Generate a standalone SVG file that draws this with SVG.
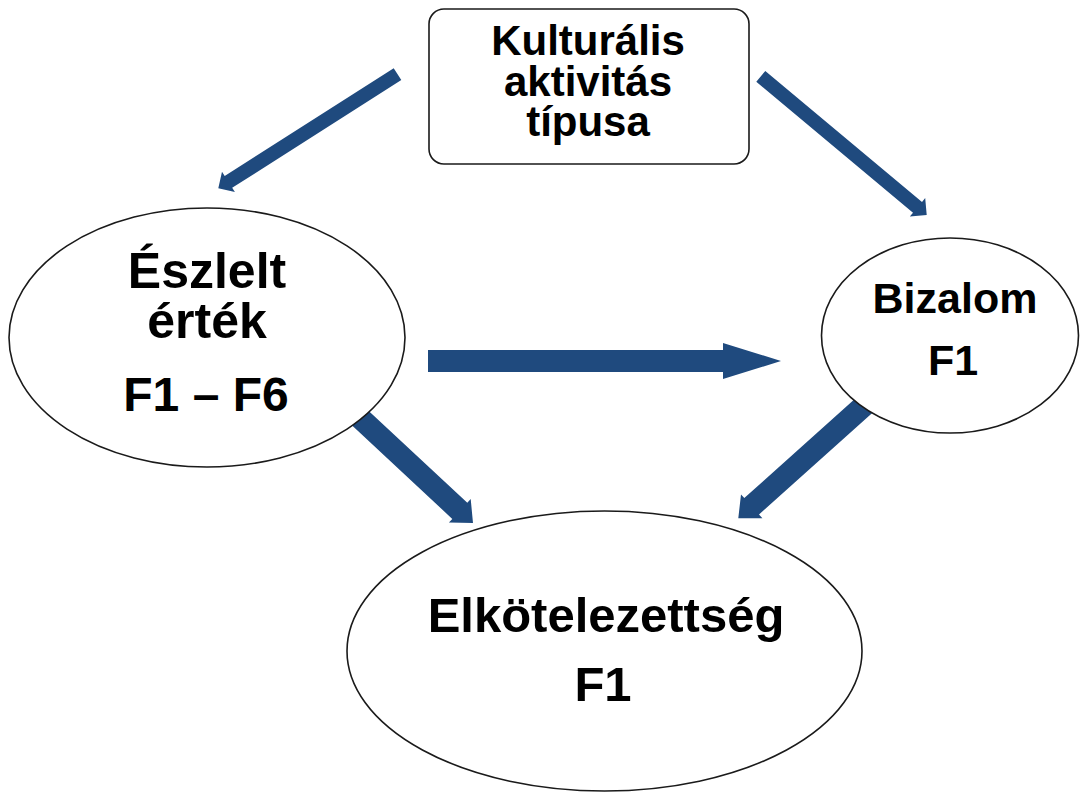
<svg xmlns="http://www.w3.org/2000/svg" width="1080" height="793" viewBox="0 0 1080 793">
<style>
.shape{fill:#ffffff;stroke:#1a1a1a;stroke-width:1.6}
.arrow{fill:#1f4a7e;stroke:none}
.t{font-family:"Liberation Sans",Arial,sans-serif;font-weight:bold;fill:#000000;text-anchor:middle}
</style>
<rect width="1080" height="793" fill="#ffffff"/>
<g id="connectors">
<polygon class="arrow" points="393.7,68.3 224.7,176.0 222.0,171.8 218.3,188.3 234.9,192.0 232.2,187.8 401.3,80.1"/>
<polygon class="arrow" points="756.3,81.7 913.0,212.7 909.8,216.5 926.7,215.0 925.2,198.1 922.0,201.9 765.3,70.9"/>
<polygon class="arrow" points="428,350 723,350 723,343 781,361 723,379 723,372 428,372"/>
<polygon class="arrow" points="350.5,424.1 452.3,518.9 448.9,522.5 473,523 470.7,499.1 467.3,502.7 365.5,407.9"/>
<polygon class="arrow" points="859.5,394.8 744.3,498.1 741.0,494.4 738.3,518.3 762.4,518.2 759.0,514.5 874.2,411.2"/>
</g>
<g id="node-kulturalis">
<rect class="shape" x="429" y="9" width="320" height="155" rx="15" ry="15"/>
<text class="t" x="588" y="55" font-size="42">Kulturális</text>
<text class="t" x="588" y="96" font-size="42">aktivitás</text>
<text class="t" x="588" y="136" font-size="42">típusa</text>
</g>
<g id="node-eszlelt">
<ellipse class="shape" cx="207" cy="337.5" rx="198" ry="129.5"/>
<text class="t" x="207" y="288" font-size="50">Észlelt</text>
<text class="t" x="207" y="338" font-size="50">érték</text>
<text class="t" x="206" y="411" font-size="48">F1 – F6</text>
</g>
<g id="node-bizalom">
<ellipse class="shape" cx="950" cy="335.5" rx="128.5" ry="97.5"/>
<text class="t" x="955" y="313" font-size="43">Bizalom</text>
<text class="t" x="953" y="375" font-size="43">F1</text>
</g>
<g id="node-elkotelezettseg">
<ellipse class="shape" cx="604.5" cy="651" rx="257.5" ry="140"/>
<text class="t" x="606" y="632" font-size="49">Elkötelezettség</text>
<text class="t" x="603" y="701" font-size="49">F1</text>
</g>
</svg>
